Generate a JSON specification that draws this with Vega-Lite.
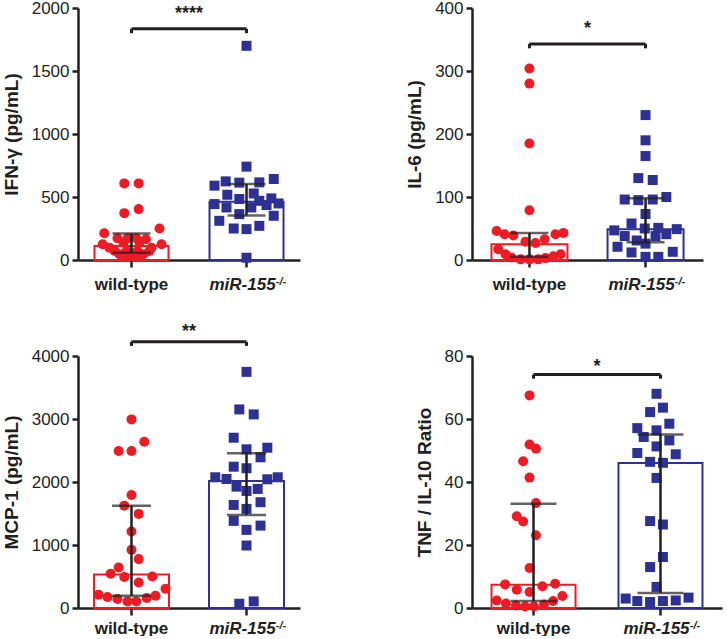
{
  "$schema": "https://vega.github.io/schema/vega-lite/v6.json",
  "background": "white",
  "padding": {"left": 2, "top": -1, "right": 5, "bottom": 0},
  "bounds": "flush",
  "columns": 2,
  "spacing": {"row": 96, "column": 172},
  "config": {
    "view": {"stroke": null},
    "font": "Liberation Sans",
    "axis": {
      "grid": false,
      "zindex": 1,
      "domainColor": "#231f20",
      "domainWidth": 2.5,
      "tickColor": "#231f20",
      "tickWidth": 2.5,
      "tickSize": 6,
      "labelColor": "#231f20",
      "labelFont": "Liberation Sans",
      "labelFontSize": 17,
      "titleFont": "Liberation Sans",
      "titleFontSize": 19,
      "titleFontWeight": "bold",
      "titleColor": "#231f20"
    },
    "axisX": {"labelFontWeight": "bold", "labelAngle": 0, "labelPadding": 6, "tickSize": 7},
    "axisY": {"labelPadding": 3, "titlePadding": 10, "format": "d"}
  },
  "datasets": {
    "p1_pts": [
      {"group": "wild-type", "value": 608, "jitter": -0.18}, {"group": "wild-type", "value": 608, "jitter": 0.18},
      {"group": "wild-type", "value": 404, "jitter": 0.18}, {"group": "wild-type", "value": 372, "jitter": -0.18},
      {"group": "wild-type", "value": 250, "jitter": 0.7}, {"group": "wild-type", "value": 213, "jitter": -0.68},
      {"group": "wild-type", "value": 173, "jitter": -0.35}, {"group": "wild-type", "value": 173, "jitter": -0.1},
      {"group": "wild-type", "value": 173, "jitter": 0.12}, {"group": "wild-type", "value": 165, "jitter": 0.36},
      {"group": "wild-type", "value": 138, "jitter": -0.2}, {"group": "wild-type", "value": 138, "jitter": 0.2},
      {"group": "wild-type", "value": 125, "jitter": -0.72}, {"group": "wild-type", "value": 125, "jitter": 0.75},
      {"group": "wild-type", "value": 98, "jitter": -0.55}, {"group": "wild-type", "value": 98, "jitter": 0.5},
      {"group": "wild-type", "value": 72, "jitter": -0.42}, {"group": "wild-type", "value": 72, "jitter": -0.12},
      {"group": "wild-type", "value": 72, "jitter": 0.15}, {"group": "wild-type", "value": 72, "jitter": 0.45},
      {"group": "wild-type", "value": 45, "jitter": -0.3}, {"group": "wild-type", "value": 45, "jitter": 0.0},
      {"group": "wild-type", "value": 45, "jitter": 0.3}, {"group": "wild-type", "value": 22, "jitter": -0.12},
      {"group": "wild-type", "value": 22, "jitter": 0.14},
      {"group": "miR-155", "value": 1700, "jitter": 0}, {"group": "miR-155", "value": 741, "jitter": 0},
      {"group": "miR-155", "value": 643, "jitter": 0.68}, {"group": "miR-155", "value": 590, "jitter": -0.8},
      {"group": "miR-155", "value": 624, "jitter": -0.52}, {"group": "miR-155", "value": 614, "jitter": -0.18},
      {"group": "miR-155", "value": 616, "jitter": 0.32}, {"group": "miR-155", "value": 518, "jitter": -0.48},
      {"group": "miR-155", "value": 528, "jitter": 0.18}, {"group": "miR-155", "value": 484, "jitter": -0.18},
      {"group": "miR-155", "value": 444, "jitter": -0.8}, {"group": "miR-155", "value": 417, "jitter": -0.5},
      {"group": "miR-155", "value": 470, "jitter": 0.32}, {"group": "miR-155", "value": 489, "jitter": 0.62},
      {"group": "miR-155", "value": 449, "jitter": 0.8}, {"group": "miR-155", "value": 417, "jitter": 0.12},
      {"group": "miR-155", "value": 436, "jitter": 0.5}, {"group": "miR-155", "value": 364, "jitter": -0.18},
      {"group": "miR-155", "value": 351, "jitter": 0.68}, {"group": "miR-155", "value": 311, "jitter": -0.68},
      {"group": "miR-155", "value": 250, "jitter": -0.32}, {"group": "miR-155", "value": 245, "jitter": 0},
      {"group": "miR-155", "value": 271, "jitter": 0.32}, {"group": "miR-155", "value": 18, "jitter": 0}
    ],
    "p1_sum": [
      {"group": "wild-type", "median": 112, "q1": 58, "q3": 211},
      {"group": "miR-155", "median": 462, "q1": 353, "q3": 603}
    ],
    "p1_br": [{"from": "wild-type", "to": "miR-155", "top": 1835, "drop": 1800, "star": 1912, "label": "****"}],
    "p2_pts": [
      {"group": "wild-type", "value": 304, "jitter": 0}, {"group": "wild-type", "value": 280, "jitter": 0},
      {"group": "wild-type", "value": 185, "jitter": 0}, {"group": "wild-type", "value": 79, "jitter": 0},
      {"group": "wild-type", "value": 46, "jitter": -0.82}, {"group": "wild-type", "value": 41, "jitter": -0.62},
      {"group": "wild-type", "value": 39, "jitter": -0.4}, {"group": "wild-type", "value": 41, "jitter": 0.65},
      {"group": "wild-type", "value": 43, "jitter": 0.85}, {"group": "wild-type", "value": 33, "jitter": 0.38},
      {"group": "wild-type", "value": 29, "jitter": -0.1}, {"group": "wild-type", "value": 27, "jitter": 0.15},
      {"group": "wild-type", "value": 17, "jitter": -0.78}, {"group": "wild-type", "value": 9, "jitter": 0.78},
      {"group": "wild-type", "value": 9, "jitter": -0.6}, {"group": "wild-type", "value": 4, "jitter": -0.45},
      {"group": "wild-type", "value": 1, "jitter": -0.22}, {"group": "wild-type", "value": 1, "jitter": 0},
      {"group": "wild-type", "value": 1, "jitter": 0.22}, {"group": "wild-type", "value": 3, "jitter": 0.4},
      {"group": "wild-type", "value": 6, "jitter": 0.6},
      {"group": "miR-155", "value": 230, "jitter": 0}, {"group": "miR-155", "value": 190, "jitter": 0},
      {"group": "miR-155", "value": 165, "jitter": 0}, {"group": "miR-155", "value": 130, "jitter": -0.18},
      {"group": "miR-155", "value": 127, "jitter": 0.18}, {"group": "miR-155", "value": 96, "jitter": -0.52},
      {"group": "miR-155", "value": 95, "jitter": -0.18}, {"group": "miR-155", "value": 96, "jitter": 0.18},
      {"group": "miR-155", "value": 100, "jitter": 0.52}, {"group": "miR-155", "value": 73, "jitter": 0},
      {"group": "miR-155", "value": 58, "jitter": -0.35}, {"group": "miR-155", "value": 47, "jitter": -0.78},
      {"group": "miR-155", "value": 49, "jitter": 0.78}, {"group": "miR-155", "value": 50, "jitter": -0.02},
      {"group": "miR-155", "value": 51, "jitter": 0.32}, {"group": "miR-155", "value": 38, "jitter": -0.52},
      {"group": "miR-155", "value": 41, "jitter": 0.52}, {"group": "miR-155", "value": 38, "jitter": 0.25},
      {"group": "miR-155", "value": 31, "jitter": -0.22}, {"group": "miR-155", "value": 26, "jitter": 0},
      {"group": "miR-155", "value": 21, "jitter": -0.7}, {"group": "miR-155", "value": 13, "jitter": 0.68},
      {"group": "miR-155", "value": 12, "jitter": -0.35}, {"group": "miR-155", "value": 5, "jitter": 0},
      {"group": "miR-155", "value": 5, "jitter": 0.32}
    ],
    "p2_sum": [
      {"group": "wild-type", "median": 25, "q1": 5, "q3": 43},
      {"group": "miR-155", "median": 49, "q1": 28, "q3": 98}
    ],
    "p2_br": [{"from": "wild-type", "to": "miR-155", "top": 343, "drop": 336, "star": 358, "label": "*"}],
    "p3_pts": [
      {"group": "wild-type", "value": 2994, "jitter": 0}, {"group": "wild-type", "value": 2640, "jitter": 0.32},
      {"group": "wild-type", "value": 2492, "jitter": -0.32}, {"group": "wild-type", "value": 2492, "jitter": 0},
      {"group": "wild-type", "value": 1795, "jitter": 0}, {"group": "wild-type", "value": 1625, "jitter": -0.18},
      {"group": "wild-type", "value": 1494, "jitter": 0.18}, {"group": "wild-type", "value": 1213, "jitter": 0},
      {"group": "wild-type", "value": 923, "jitter": 0}, {"group": "wild-type", "value": 776, "jitter": 0.18},
      {"group": "wild-type", "value": 643, "jitter": -0.32}, {"group": "wild-type", "value": 543, "jitter": -0.52},
      {"group": "wild-type", "value": 491, "jitter": -0.18}, {"group": "wild-type", "value": 500, "jitter": 0.52},
      {"group": "wild-type", "value": 405, "jitter": 0.18}, {"group": "wild-type", "value": 306, "jitter": 0.85},
      {"group": "wild-type", "value": 211, "jitter": -0.82}, {"group": "wild-type", "value": 174, "jitter": -0.6},
      {"group": "wild-type", "value": 143, "jitter": -0.35}, {"group": "wild-type", "value": 105, "jitter": -0.1},
      {"group": "wild-type", "value": 105, "jitter": 0.12}, {"group": "wild-type", "value": 158, "jitter": 0.38},
      {"group": "wild-type", "value": 195, "jitter": 0.6},
      {"group": "miR-155", "value": 3748, "jitter": 0}, {"group": "miR-155", "value": 3152, "jitter": -0.18},
      {"group": "miR-155", "value": 3073, "jitter": 0.18}, {"group": "miR-155", "value": 2703, "jitter": -0.32},
      {"group": "miR-155", "value": 2519, "jitter": 0}, {"group": "miR-155", "value": 2544, "jitter": 0.52},
      {"group": "miR-155", "value": 2392, "jitter": 0.35}, {"group": "miR-155", "value": 2243, "jitter": -0.32},
      {"group": "miR-155", "value": 2218, "jitter": 0}, {"group": "miR-155", "value": 2075, "jitter": -0.78},
      {"group": "miR-155", "value": 2048, "jitter": -0.5}, {"group": "miR-155", "value": 2043, "jitter": 0.52},
      {"group": "miR-155", "value": 2075, "jitter": 0.78}, {"group": "miR-155", "value": 1926, "jitter": -0.25},
      {"group": "miR-155", "value": 1858, "jitter": 0}, {"group": "miR-155", "value": 1890, "jitter": 0.28},
      {"group": "miR-155", "value": 1636, "jitter": -0.32}, {"group": "miR-155", "value": 1573, "jitter": 0},
      {"group": "miR-155", "value": 1679, "jitter": 0.35}, {"group": "miR-155", "value": 1383, "jitter": -0.32},
      {"group": "miR-155", "value": 1240, "jitter": 0}, {"group": "miR-155", "value": 1308, "jitter": 0.35},
      {"group": "miR-155", "value": 992, "jitter": 0}, {"group": "miR-155", "value": 68, "jitter": -0.18},
      {"group": "miR-155", "value": 105, "jitter": 0.18}
    ],
    "p3_sum": [
      {"group": "wild-type", "median": 530, "q1": 195, "q3": 1625},
      {"group": "miR-155", "median": 2015, "q1": 1478, "q3": 2455}
    ],
    "p3_br": [{"from": "wild-type", "to": "miR-155", "top": 4225, "drop": 4160, "star": 4295, "label": "**"}],
    "p4_pts": [
      {"group": "wild-type", "value": 67.5, "jitter": 0}, {"group": "wild-type", "value": 51.9, "jitter": 0},
      {"group": "wild-type", "value": 50.6, "jitter": 0.16}, {"group": "wild-type", "value": 46.6, "jitter": -0.16},
      {"group": "wild-type", "value": 41.4, "jitter": 0}, {"group": "wild-type", "value": 33.3, "jitter": 0.16},
      {"group": "wild-type", "value": 29.1, "jitter": -0.32}, {"group": "wild-type", "value": 27.5, "jitter": -0.16},
      {"group": "wild-type", "value": 23.1, "jitter": 0.16}, {"group": "wild-type", "value": 12.7, "jitter": 0},
      {"group": "wild-type", "value": 7.5, "jitter": -0.61}, {"group": "wild-type", "value": 7.7, "jitter": 0.64},
      {"group": "wild-type", "value": 6.9, "jitter": 0.32}, {"group": "wild-type", "value": 5.8, "jitter": -0.32},
      {"group": "wild-type", "value": 5.1, "jitter": 0}, {"group": "wild-type", "value": 2.4, "jitter": -0.82},
      {"group": "wild-type", "value": 3.8, "jitter": 0.82}, {"group": "wild-type", "value": 2.2, "jitter": 0.59},
      {"group": "wild-type", "value": 1.4, "jitter": -0.59}, {"group": "wild-type", "value": 0.8, "jitter": -0.34},
      {"group": "wild-type", "value": 0.5, "jitter": -0.11}, {"group": "wild-type", "value": 0.5, "jitter": 0.11},
      {"group": "wild-type", "value": 1.1, "jitter": 0.36},
      {"group": "miR-155", "value": 68.0, "jitter": 0}, {"group": "miR-155", "value": 62.2, "jitter": -0.16},
      {"group": "miR-155", "value": 63.6, "jitter": 0.16}, {"group": "miR-155", "value": 57.1, "jitter": -0.48},
      {"group": "miR-155", "value": 58.5, "jitter": 0.32}, {"group": "miR-155", "value": 56.4, "jitter": 0},
      {"group": "miR-155", "value": 54.3, "jitter": -0.32}, {"group": "miR-155", "value": 53.2, "jitter": 0.32},
      {"group": "miR-155", "value": 51.3, "jitter": 0}, {"group": "miR-155", "value": 49.2, "jitter": -0.48},
      {"group": "miR-155", "value": 48.8, "jitter": 0.48}, {"group": "miR-155", "value": 46.4, "jitter": -0.16},
      {"group": "miR-155", "value": 46.1, "jitter": 0.16}, {"group": "miR-155", "value": 41.3, "jitter": 0},
      {"group": "miR-155", "value": 27.6, "jitter": -0.16}, {"group": "miR-155", "value": 26.5, "jitter": 0.16},
      {"group": "miR-155", "value": 16.2, "jitter": 0.16}, {"group": "miR-155", "value": 13.0, "jitter": -0.16},
      {"group": "miR-155", "value": 6.7, "jitter": 0}, {"group": "miR-155", "value": 3.0, "jitter": -0.77},
      {"group": "miR-155", "value": 2.2, "jitter": -0.48}, {"group": "miR-155", "value": 1.9, "jitter": -0.16},
      {"group": "miR-155", "value": 2.2, "jitter": 0.16}, {"group": "miR-155", "value": 2.4, "jitter": 0.48},
      {"group": "miR-155", "value": 3.3, "jitter": 0.8}
    ],
    "p4_sum": [
      {"group": "wild-type", "median": 7.4, "q1": 2.2, "q3": 33.1},
      {"group": "miR-155", "median": 46, "q1": 4.8, "q3": 55.1}
    ],
    "p4_br": [{"from": "wild-type", "to": "miR-155", "top": 74.1, "drop": 72.8, "star": 74.8, "label": "*"}]
  },
  "concat": [
    {
      "width": 222, "height": 252,
      "layer": [
        {"data": {"name": "p1_sum"}, "mark": {"type": "bar", "width": 74, "fill": "white", "strokeWidth": 2},
         "encoding": {
           "x": {"field": "group", "type": "nominal", "title": null, "scale": {"domain": ["wild-type", "miR-155"], "paddingInner": 0.304, "paddingOuter": 0.117},
                 "axis": {"labelPadding": 9, "labelFontStyle": {"condition": {"test": "datum.value === 'miR-155'", "value": "italic"}, "value": "normal"},
                          "labelOffset": {"condition": {"test": "datum.value === 'miR-155'", "value": -4}, "value": 0}}},
           "y": {"field": "median", "type": "quantitative", "title": "IFN-γ (pg/mL)", "scale": {"domain": [0, 2000], "nice": false}, "axis": {"values": [0, 500, 1000, 1500, 2000]}},
           "stroke": {"field": "group", "type": "nominal", "scale": {"domain": ["wild-type", "miR-155"], "range": ["#ed1c24", "#2e3192"]}, "legend": null}
         }},
        {"data": {"name": "p1_pts"}, "mark": {"type": "point", "filled": true, "opacity": 1, "size": 100, "strokeWidth": 0},
         "encoding": {
           "x": {"field": "group", "type": "nominal", "title": null},
           "xOffset": {"field": "jitter", "type": "quantitative", "scale": {"domain": [-1, 1], "zero": false, "nice": false}},
           "y": {"field": "value", "type": "quantitative", "title": "IFN-γ (pg/mL)"},
           "color": {"field": "group", "type": "nominal", "scale": {"domain": ["wild-type", "miR-155"], "range": ["#ed1c24", "#2e3192"]}, "legend": null},
           "shape": {"field": "group", "type": "nominal", "scale": {"domain": ["wild-type", "miR-155"], "range": ["circle", "square"]}, "legend": null}
         }},
        {"data": {"name": "p1_sum"}, "mark": {"type": "rule", "strokeWidth": 2.5, "color": "#231f20"},
         "encoding": {"x": {"field": "group", "type": "nominal", "title": null}, "y": {"field": "q1", "type": "quantitative", "title": "IFN-γ (pg/mL)"}, "y2": {"field": "q3"}}},
        {"data": {"name": "p1_sum"}, "mark": {"type": "tick", "thickness": 2.5, "size": 38, "color": "#231f20"},
         "encoding": {"x": {"field": "group", "type": "nominal", "title": null}, "y": {"field": "q1", "type": "quantitative", "title": "IFN-γ (pg/mL)"}}},
        {"data": {"name": "p1_sum"}, "mark": {"type": "tick", "thickness": 2.5, "size": 38, "color": "#231f20"},
         "encoding": {"x": {"field": "group", "type": "nominal", "title": null}, "y": {"field": "q3", "type": "quantitative", "title": "IFN-γ (pg/mL)"}}},
        {"data": {"name": "p1_br"}, "mark": {"type": "rule", "strokeWidth": 3, "color": "#231f20"},
         "encoding": {"x": {"field": "from", "type": "nominal", "title": null}, "x2": {"field": "to"}, "y": {"field": "top", "type": "quantitative", "title": "IFN-γ (pg/mL)"}}},
        {"data": {"name": "p1_br"}, "mark": {"type": "rule", "strokeWidth": 3, "color": "#231f20"},
         "encoding": {"x": {"field": "from", "type": "nominal", "title": null}, "y": {"field": "top", "type": "quantitative", "title": "IFN-γ (pg/mL)"}, "y2": {"field": "drop"}}},
        {"data": {"name": "p1_br"}, "mark": {"type": "rule", "strokeWidth": 3, "color": "#231f20"},
         "encoding": {"x": {"field": "to", "type": "nominal", "title": null}, "y": {"field": "top", "type": "quantitative", "title": "IFN-γ (pg/mL)"}, "y2": {"field": "drop"}}},
        {"data": {"name": "p1_br"}, "mark": {"type": "text", "fontSize": 18, "fontWeight": "bold", "dx": 57.5, "baseline": "alphabetic", "align": "center", "color": "#231f20"},
         "encoding": {"x": {"field": "from", "type": "nominal", "title": null}, "y": {"field": "star", "type": "quantitative", "title": "IFN-γ (pg/mL)"}, "text": {"field": "label"}}},
        {"data": {"name": "p1_br"}, "mark": {"type": "text", "text": "-/-", "fontSize": 11, "fontWeight": "bold", "fontStyle": "italic", "dx": 34.5, "dy": 24.5, "baseline": "alphabetic", "align": "center", "color": "#231f20"},
         "encoding": {"x": {"field": "to", "type": "nominal", "title": null}, "y": {"datum": 0, "type": "quantitative", "title": "IFN-γ (pg/mL)"}}}
      ]
    },
    {
      "width": 231, "height": 252,
      "layer": [
        {"data": {"name": "p2_sum"}, "mark": {"type": "bar", "width": 76, "fill": "white", "strokeWidth": 2},
         "encoding": {
           "x": {"field": "group", "type": "nominal", "title": null, "scale": {"domain": ["wild-type", "miR-155"], "paddingInner": 0.31, "paddingOuter": 0.15},
                 "axis": {"labelPadding": 9, "labelFontStyle": {"condition": {"test": "datum.value === 'miR-155'", "value": "italic"}, "value": "normal"},
                          "labelOffset": {"condition": {"test": "datum.value === 'miR-155'", "value": -4}, "value": 0}}},
           "y": {"field": "median", "type": "quantitative", "title": "IL-6 (pg/mL)", "scale": {"domain": [0, 400], "nice": false}, "axis": {"values": [0, 100, 200, 300, 400]}},
           "stroke": {"field": "group", "type": "nominal", "scale": {"domain": ["wild-type", "miR-155"], "range": ["#ed1c24", "#2e3192"]}, "legend": null}
         }},
        {"data": {"name": "p2_pts"}, "mark": {"type": "point", "filled": true, "opacity": 1, "size": 100, "strokeWidth": 0},
         "encoding": {
           "x": {"field": "group", "type": "nominal", "title": null},
           "xOffset": {"field": "jitter", "type": "quantitative", "scale": {"domain": [-1, 1], "zero": false, "nice": false}},
           "y": {"field": "value", "type": "quantitative", "title": "IL-6 (pg/mL)"},
           "color": {"field": "group", "type": "nominal", "scale": {"domain": ["wild-type", "miR-155"], "range": ["#ed1c24", "#2e3192"]}, "legend": null},
           "shape": {"field": "group", "type": "nominal", "scale": {"domain": ["wild-type", "miR-155"], "range": ["circle", "square"]}, "legend": null}
         }},
        {"data": {"name": "p2_sum"}, "mark": {"type": "rule", "strokeWidth": 2.5, "color": "#231f20"},
         "encoding": {"x": {"field": "group", "type": "nominal", "title": null}, "y": {"field": "q1", "type": "quantitative", "title": "IL-6 (pg/mL)"}, "y2": {"field": "q3"}}},
        {"data": {"name": "p2_sum"}, "mark": {"type": "tick", "thickness": 2.5, "size": 38, "color": "#231f20"},
         "encoding": {"x": {"field": "group", "type": "nominal", "title": null}, "y": {"field": "q1", "type": "quantitative", "title": "IL-6 (pg/mL)"}}},
        {"data": {"name": "p2_sum"}, "mark": {"type": "tick", "thickness": 2.5, "size": 38, "color": "#231f20"},
         "encoding": {"x": {"field": "group", "type": "nominal", "title": null}, "y": {"field": "q3", "type": "quantitative", "title": "IL-6 (pg/mL)"}}},
        {"data": {"name": "p2_br"}, "mark": {"type": "rule", "strokeWidth": 3, "color": "#231f20"},
         "encoding": {"x": {"field": "from", "type": "nominal", "title": null}, "x2": {"field": "to"}, "y": {"field": "top", "type": "quantitative", "title": "IL-6 (pg/mL)"}}},
        {"data": {"name": "p2_br"}, "mark": {"type": "rule", "strokeWidth": 3, "color": "#231f20"},
         "encoding": {"x": {"field": "from", "type": "nominal", "title": null}, "y": {"field": "top", "type": "quantitative", "title": "IL-6 (pg/mL)"}, "y2": {"field": "drop"}}},
        {"data": {"name": "p2_br"}, "mark": {"type": "rule", "strokeWidth": 3, "color": "#231f20"},
         "encoding": {"x": {"field": "to", "type": "nominal", "title": null}, "y": {"field": "top", "type": "quantitative", "title": "IL-6 (pg/mL)"}, "y2": {"field": "drop"}}},
        {"data": {"name": "p2_br"}, "mark": {"type": "text", "fontSize": 18, "fontWeight": "bold", "dx": 58, "baseline": "alphabetic", "align": "center", "color": "#231f20"},
         "encoding": {"x": {"field": "from", "type": "nominal", "title": null}, "y": {"field": "star", "type": "quantitative", "title": "IL-6 (pg/mL)"}, "text": {"field": "label"}}},
        {"data": {"name": "p2_br"}, "mark": {"type": "text", "text": "-/-", "fontSize": 11, "fontWeight": "bold", "fontStyle": "italic", "dx": 34.5, "dy": 24.5, "baseline": "alphabetic", "align": "center", "color": "#231f20"},
         "encoding": {"x": {"field": "to", "type": "nominal", "title": null}, "y": {"datum": 0, "type": "quantitative", "title": "IL-6 (pg/mL)"}}}
      ]
    },
    {
      "width": 222, "height": 252,
      "layer": [
        {"data": {"name": "p3_sum"}, "mark": {"type": "bar", "width": 75, "fill": "white", "strokeWidth": 2},
         "encoding": {
           "x": {"field": "group", "type": "nominal", "title": null, "scale": {"domain": ["wild-type", "miR-155"], "paddingInner": 0.304, "paddingOuter": 0.117},
                 "axis": {"labelPadding": 5, "labelFontStyle": {"condition": {"test": "datum.value === 'miR-155'", "value": "italic"}, "value": "normal"},
                          "labelOffset": {"condition": {"test": "datum.value === 'miR-155'", "value": -4}, "value": 0}}},
           "y": {"field": "median", "type": "quantitative", "title": "MCP-1 (pg/mL)", "scale": {"domain": [0, 4000], "nice": false}, "axis": {"values": [0, 1000, 2000, 3000, 4000]}},
           "stroke": {"field": "group", "type": "nominal", "scale": {"domain": ["wild-type", "miR-155"], "range": ["#ed1c24", "#2e3192"]}, "legend": null}
         }},
        {"data": {"name": "p3_pts"}, "mark": {"type": "point", "filled": true, "opacity": 1, "size": 100, "strokeWidth": 0},
         "encoding": {
           "x": {"field": "group", "type": "nominal", "title": null},
           "xOffset": {"field": "jitter", "type": "quantitative", "scale": {"domain": [-1, 1], "zero": false, "nice": false}},
           "y": {"field": "value", "type": "quantitative", "title": "MCP-1 (pg/mL)"},
           "color": {"field": "group", "type": "nominal", "scale": {"domain": ["wild-type", "miR-155"], "range": ["#ed1c24", "#2e3192"]}, "legend": null},
           "shape": {"field": "group", "type": "nominal", "scale": {"domain": ["wild-type", "miR-155"], "range": ["circle", "square"]}, "legend": null}
         }},
        {"data": {"name": "p3_sum"}, "mark": {"type": "rule", "strokeWidth": 2.5, "color": "#231f20"},
         "encoding": {"x": {"field": "group", "type": "nominal", "title": null}, "y": {"field": "q1", "type": "quantitative", "title": "MCP-1 (pg/mL)"}, "y2": {"field": "q3"}}},
        {"data": {"name": "p3_sum"}, "mark": {"type": "tick", "thickness": 2.5, "size": 39, "color": "#231f20"},
         "encoding": {"x": {"field": "group", "type": "nominal", "title": null}, "y": {"field": "q1", "type": "quantitative", "title": "MCP-1 (pg/mL)"}}},
        {"data": {"name": "p3_sum"}, "mark": {"type": "tick", "thickness": 2.5, "size": 39, "color": "#231f20"},
         "encoding": {"x": {"field": "group", "type": "nominal", "title": null}, "y": {"field": "q3", "type": "quantitative", "title": "MCP-1 (pg/mL)"}}},
        {"data": {"name": "p3_br"}, "mark": {"type": "rule", "strokeWidth": 3, "color": "#231f20"},
         "encoding": {"x": {"field": "from", "type": "nominal", "title": null}, "x2": {"field": "to"}, "y": {"field": "top", "type": "quantitative", "title": "MCP-1 (pg/mL)"}}},
        {"data": {"name": "p3_br"}, "mark": {"type": "rule", "strokeWidth": 3, "color": "#231f20"},
         "encoding": {"x": {"field": "from", "type": "nominal", "title": null}, "y": {"field": "top", "type": "quantitative", "title": "MCP-1 (pg/mL)"}, "y2": {"field": "drop"}}},
        {"data": {"name": "p3_br"}, "mark": {"type": "rule", "strokeWidth": 3, "color": "#231f20"},
         "encoding": {"x": {"field": "to", "type": "nominal", "title": null}, "y": {"field": "top", "type": "quantitative", "title": "MCP-1 (pg/mL)"}, "y2": {"field": "drop"}}},
        {"data": {"name": "p3_br"}, "mark": {"type": "text", "fontSize": 18, "fontWeight": "bold", "dx": 57.5, "baseline": "alphabetic", "align": "center", "color": "#231f20"},
         "encoding": {"x": {"field": "from", "type": "nominal", "title": null}, "y": {"field": "star", "type": "quantitative", "title": "MCP-1 (pg/mL)"}, "text": {"field": "label"}}},
        {"data": {"name": "p3_br"}, "mark": {"type": "text", "text": "-/-", "fontSize": 11, "fontWeight": "bold", "fontStyle": "italic", "dx": 34.5, "dy": 20.5, "baseline": "alphabetic", "align": "center", "color": "#231f20"},
         "encoding": {"x": {"field": "to", "type": "nominal", "title": null}, "y": {"datum": 0, "type": "quantitative", "title": "MCP-1 (pg/mL)"}}}
      ]
    },
    {
      "width": 250, "height": 252,
      "layer": [
        {"data": {"name": "p4_sum"}, "mark": {"type": "bar", "width": 84, "fill": "white", "strokeWidth": 2},
         "encoding": {
           "x": {"field": "group", "type": "nominal", "title": null, "scale": {"domain": ["wild-type", "miR-155"], "paddingInner": 0.307, "paddingOuter": 0.138},
                 "axis": {"labelPadding": 5, "labelFontStyle": {"condition": {"test": "datum.value === 'miR-155'", "value": "italic"}, "value": "normal"},
                          "labelOffset": {"condition": {"test": "datum.value === 'miR-155'", "value": -4}, "value": 0}}},
           "y": {"field": "median", "type": "quantitative", "title": "TNF / IL-10 Ratio", "scale": {"domain": [0, 80], "nice": false}, "axis": {"values": [0, 20, 40, 60, 80]}},
           "stroke": {"field": "group", "type": "nominal", "scale": {"domain": ["wild-type", "miR-155"], "range": ["#ed1c24", "#2e3192"]}, "legend": null}
         }},
        {"data": {"name": "p4_pts"}, "mark": {"type": "point", "filled": true, "opacity": 1, "size": 100, "strokeWidth": 0},
         "encoding": {
           "x": {"field": "group", "type": "nominal", "title": null},
           "xOffset": {"field": "jitter", "type": "quantitative", "scale": {"domain": [-1, 1], "zero": false, "nice": false}},
           "y": {"field": "value", "type": "quantitative", "title": "TNF / IL-10 Ratio"},
           "color": {"field": "group", "type": "nominal", "scale": {"domain": ["wild-type", "miR-155"], "range": ["#ed1c24", "#2e3192"]}, "legend": null},
           "shape": {"field": "group", "type": "nominal", "scale": {"domain": ["wild-type", "miR-155"], "range": ["circle", "square"]}, "legend": null}
         }},
        {"data": {"name": "p4_sum"}, "mark": {"type": "rule", "strokeWidth": 2.5, "color": "#231f20"},
         "encoding": {"x": {"field": "group", "type": "nominal", "title": null}, "y": {"field": "q1", "type": "quantitative", "title": "TNF / IL-10 Ratio"}, "y2": {"field": "q3"}}},
        {"data": {"name": "p4_sum"}, "mark": {"type": "tick", "thickness": 2.5, "size": 46, "color": "#231f20"},
         "encoding": {"x": {"field": "group", "type": "nominal", "title": null}, "y": {"field": "q1", "type": "quantitative", "title": "TNF / IL-10 Ratio"}}},
        {"data": {"name": "p4_sum"}, "mark": {"type": "tick", "thickness": 2.5, "size": 46, "color": "#231f20"},
         "encoding": {"x": {"field": "group", "type": "nominal", "title": null}, "y": {"field": "q3", "type": "quantitative", "title": "TNF / IL-10 Ratio"}}},
        {"data": {"name": "p4_br"}, "mark": {"type": "rule", "strokeWidth": 3, "color": "#231f20"},
         "encoding": {"x": {"field": "from", "type": "nominal", "title": null}, "x2": {"field": "to"}, "y": {"field": "top", "type": "quantitative", "title": "TNF / IL-10 Ratio"}}},
        {"data": {"name": "p4_br"}, "mark": {"type": "rule", "strokeWidth": 3, "color": "#231f20"},
         "encoding": {"x": {"field": "from", "type": "nominal", "title": null}, "y": {"field": "top", "type": "quantitative", "title": "TNF / IL-10 Ratio"}, "y2": {"field": "drop"}}},
        {"data": {"name": "p4_br"}, "mark": {"type": "rule", "strokeWidth": 3, "color": "#231f20"},
         "encoding": {"x": {"field": "to", "type": "nominal", "title": null}, "y": {"field": "top", "type": "quantitative", "title": "TNF / IL-10 Ratio"}, "y2": {"field": "drop"}}},
        {"data": {"name": "p4_br"}, "mark": {"type": "text", "fontSize": 18, "fontWeight": "bold", "dx": 63.5, "baseline": "alphabetic", "align": "center", "color": "#231f20"},
         "encoding": {"x": {"field": "from", "type": "nominal", "title": null}, "y": {"field": "star", "type": "quantitative", "title": "TNF / IL-10 Ratio"}, "text": {"field": "label"}}},
        {"data": {"name": "p4_br"}, "mark": {"type": "text", "text": "-/-", "fontSize": 11, "fontWeight": "bold", "fontStyle": "italic", "dx": 34.5, "dy": 20.5, "baseline": "alphabetic", "align": "center", "color": "#231f20"},
         "encoding": {"x": {"field": "to", "type": "nominal", "title": null}, "y": {"datum": 0, "type": "quantitative", "title": "TNF / IL-10 Ratio"}}}
      ]
    }
  ]
}
